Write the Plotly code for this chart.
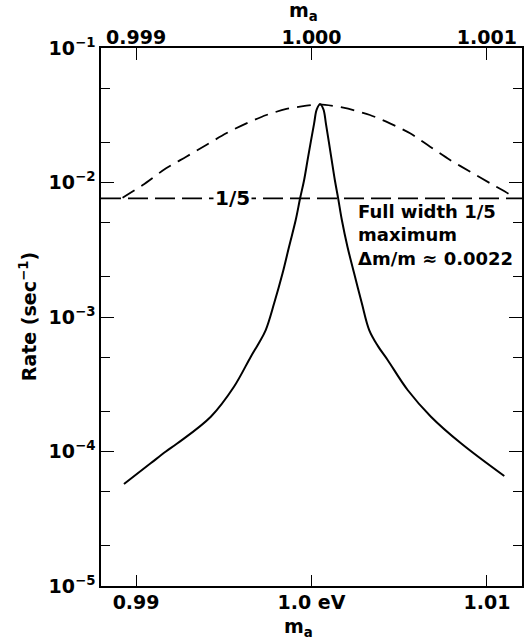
import math
import plotly.graph_objects as go

# ---- data ----
# solid curve: rate vs m_a (bottom axis, eV)
solid_m = [0.98931, 0.99083, 0.99170, 0.99236, 0.99426, 0.99558, 0.99654, 0.99697, 0.99739, 0.99787,
           0.99835, 0.99872, 0.99910, 0.99935, 0.99958, 0.99981, 1.00015, 1.00030,
           1.00049,
           1.00068, 1.00082, 1.00112, 1.00133, 1.00152, 1.00173, 1.00205, 1.00243,
           1.00287, 1.00329, 1.00378, 1.00434, 1.00548, 1.00681, 1.00852, 1.01099]
solid_rate = [5.73e-5, 8.17e-5, 1.0e-4, 1.151e-4, 1.815e-4, 3.03e-4, 5.07e-4, 6.3e-4, 8.00e-4, 1.264e-3,
              2.113e-3, 3.33e-3, 5.26e-3, 7.63e-3, 0.01044, 0.01556, 0.02754, 0.0350,
              0.0381,
              0.0350, 0.02754, 0.01556, 0.01044, 7.63e-3, 5.26e-3, 3.33e-3, 2.113e-3,
              1.264e-3, 8.00e-4, 6.1e-4, 4.79e-4, 2.866e-4, 1.815e-4, 1.151e-4, 6.57e-5]

# dashed curve: rate vs m_a (top axis, magnified scale)
dash_m = [0.998923, 0.999038, 0.999171, 0.999286, 0.999400, 0.999514, 0.999629,
          0.999743, 0.999857, 0.999971, 1.000047, 1.000181, 1.000333, 1.000447,
          1.000562, 1.000676, 1.000790, 1.000905, 1.001019, 1.001133, 1.001145]
dash_rate = [7.71e-3, 9.58e-3, 0.01275, 0.01555, 0.01900, 0.02321, 0.02754, 0.03176,
             0.03520, 0.03724, 0.03814, 0.03598, 0.03176, 0.02754, 0.02321, 0.01846,
             0.01470, 0.01203, 9.86e-3, 8.07e-3, 7.71e-3]

bottom_ticks = [0.99, 1.0, 1.01]
bottom_labels = ["0.99", "1.0 eV", "1.01"]
top_ticks = [0.999, 1.000, 1.001]
top_labels = ["0.999", "1.000", "1.001"]
y_ticks = [1e-5, 1e-4, 1e-3, 1e-2, 1e-1]
y_labels = ["10<sup>−5</sup>", "10<sup>−4</sup>", "10<sup>−3</sup>",
            "10<sup>−2</sup>", "10<sup>−1</sup>"]
y_minor = [m * 10 ** e for e in range(-5, -1) for m in (2, 5)]

x_range = [0.988, 1.012]
x2_range = [0.9988, 1.0012]
fifth_level = max(dash_rate) / 5

FONT = "DejaVu Sans"
fig = go.Figure()

fig.add_trace(go.Scatter(x=solid_m, y=solid_rate, mode="lines",
                         line=dict(color="black", width=2, shape="spline", smoothing=1.0),
                         xaxis="x", yaxis="y", showlegend=False, hoverinfo="skip"))
fig.add_trace(go.Scatter(x=dash_m, y=dash_rate, mode="lines",
                         line=dict(color="black", width=1.8, dash="14px,8px",
                                   shape="spline", smoothing=0.8),
                         xaxis="x2", yaxis="y", showlegend=False, hoverinfo="skip"))
fig.add_trace(go.Scatter(x=x_range, y=[fifth_level, fifth_level], mode="lines",
                         line=dict(color="black", width=1.8, dash="20px,7px"),
                         xaxis="x", yaxis="y", showlegend=False, hoverinfo="skip"))

axis_common = dict(showgrid=False, zeroline=False, showline=True, linecolor="black",
                   linewidth=1.5, ticks="inside", tickcolor="black", tickwidth=1.2,
                   automargin=False,
                   tickfont=dict(family=FONT, size=19, color="black", weight="bold"))

fig.update_layout(
    width=532, height=644,
    margin=dict(l=101, r=10, t=48, b=58, autoexpand=False),
    paper_bgcolor="white", plot_bgcolor="white",
    font=dict(family=FONT, color="black"),
    xaxis=dict(range=x_range, tickvals=bottom_ticks, ticktext=bottom_labels,
               ticklen=11, ticklabelstandoff=-2, **axis_common),
    xaxis2=dict(range=x2_range, overlaying="x", side="top", tickvals=top_ticks,
                ticktext=top_labels, ticklen=12, ticklabelstandoff=-5, **axis_common),
    yaxis=dict(type="log", range=[-5, -1], tickvals=y_ticks, ticktext=y_labels,
               ticklen=13, mirror="ticks",
               minor=dict(tickvals=y_minor, ticklen=9, ticks="inside",
                          tickcolor="black", tickwidth=1.2, showgrid=False),
               **axis_common),
)

title_font = dict(family=FONT, size=19, color="black", weight="bold")
# axis titles
fig.add_annotation(x=-0.173, y=0.5, xref="paper", yref="paper",
                   text="Rate (sec<sup>−1</sup>)", textangle=-90, showarrow=False,
                   xanchor="center", yanchor="middle", font=title_font)
fig.add_annotation(x=0.47, y=-0.078, xref="paper", yref="paper",
                   text="m<sub>a</sub>", showarrow=False,
                   xanchor="center", yanchor="middle", font=title_font)
fig.add_annotation(x=0.48, y=1.068, xref="paper", yref="paper",
                   text="m<sub>a</sub>", showarrow=False,
                   xanchor="center", yanchor="middle", font=title_font)

fig.add_annotation(x=0.99551, y=math.log10(fifth_level), xref="x", yref="y",
                   text="1/5", showarrow=False, bgcolor="white",
                   font=dict(family=FONT, size=20, color="black", weight="bold"),
                   xanchor="center", yanchor="middle", borderpad=1)
fig.add_annotation(x=1.00252, y=math.log10(fifth_level), xref="x", yref="y",
                   text="Full width 1/5<br>maximum<br>Δm/m ≈ 0.0022",
                   showarrow=False, align="left", xanchor="left", yanchor="top",
                   yshift=-1,
                   font=dict(family=FONT, size=18, color="black", weight="bold"))

fig.write_html("out.html", config={"displayModeBar": False},
               post_script="document.body.style.margin='0';"
                           "document.body.style.overflow='hidden';")
